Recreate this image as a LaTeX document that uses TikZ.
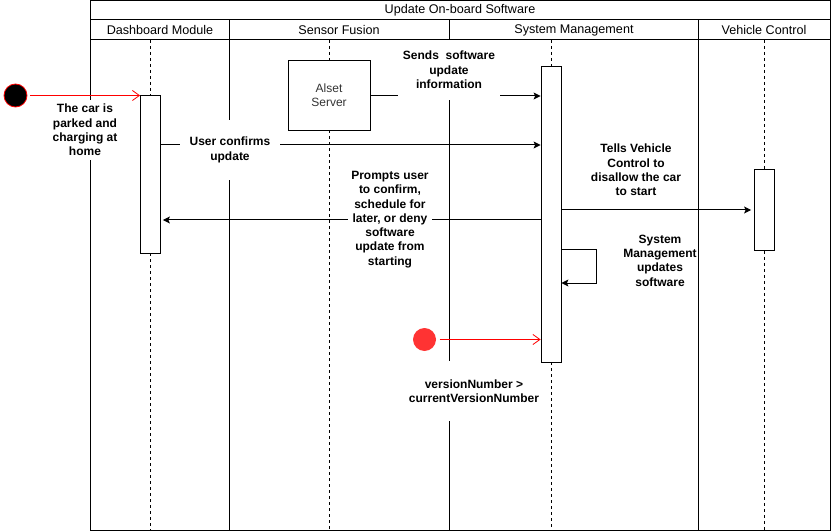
\documentclass[tikz,border=0pt]{standalone}
\usepackage{fontspec}
\setmainfont{Liberation Sans}
\usetikzlibrary{arrows.meta,positioning}
\definecolor{flowred}{RGB}{255,0,0}
\definecolor{trigred}{RGB}{255,51,51}
\definecolor{srvgray}{RGB}{51,51,51}

\begin{document}
\begin{tikzpicture}[x=1pt, y=-1pt, line width=1pt,
  font=\fontsize{12}{14.3}\selectfont,
  head/.style={inner sep=0pt, font=\fontsize{12.6}{14.3}\selectfont},
  lbl/.style={fill=white, align=center, inner sep=2pt,
    font=\fontsize{12}{14.3}\selectfont\bfseries},
  note/.style={align=center, inner sep=0pt,
    font=\fontsize{12}{14.3}\selectfont\bfseries},
  act/.style={draw, fill=white, line width=0.8pt, minimum width=20pt, inner sep=0pt},
  life/.style={dash pattern=on 3pt off 3pt, line width=0.8pt},
  msg/.style={-{Stealth[length=7pt,width=7pt,inset=1.5pt]}, line width=1pt},
  ret/.style={-{Straight Barb[length=7pt,width=10pt]}, flowred, line width=0.8pt}]
\useasboundingbox (0,0) rectangle (831,532);

% ---- frame and lanes ----
\draw (90,0.5) rectangle (830,530);
\draw (90,20) -- (830,20);
\draw (90,40) -- (830,40);
\foreach \lx in {229,449,698}
  \draw (\lx,20) -- (\lx,530);

\node[head] (title) at (460,10) {Update On-board  Software};
\node[head] (hDash) at (160,30) {Dashboard Module};
\node[head] (hSens) at (339,30) {Sensor Fusion};
\node[head] (hSys)  at (574,30) {System Management};
\node[head] (hVeh)  at (764,30) {Vehicle Control};

% ---- lifelines and activations ----
\node[act, minimum height=158pt] (dashAct) at (150.5,174) {};
\node[draw, line width=0.8pt, minimum width=82pt, minimum height=70pt,
  align=center, text=srvgray] (server) at (329,95) {Alset\\Server};
\node[act, minimum height=296pt] (sysAct) at (551,214) {};
\node[act, minimum height=81pt] (vehAct) at (764.5,210) {};

\coordinate (dashTop) at (150.5,40);  \coordinate (dashBot) at (150.5,530);
\coordinate (sensTop) at (329,40);    \coordinate (sensBot) at (329,530);
\coordinate (sysTop)  at (551,40);    \coordinate (sysBot)  at (551,530);
\coordinate (vehTop)  at (764.5,40);  \coordinate (vehBot)  at (764.5,530);

\draw[life] (dashTop) -- (dashAct.north);  \draw[life] (dashAct.south) -- (dashBot);
\draw[life] (sensTop) -- (server.north);   \draw[life] (server.south) -- (sensBot);
\draw[life] (sysTop) -- (sysAct.north);    \draw[life] (sysAct.south) -- (sysBot);
\draw[life] (vehTop) -- (vehAct.north);    \draw[life] (vehAct.south) -- (vehBot);

% ---- messages ----
\node[circle, draw=flowred, fill=black, line width=0.8pt, minimum size=23pt,
  inner sep=0pt] (start) at (15.5,95.5) {};
\draw[ret, shorten <=3pt] (start) -- (dashAct.west |- start);

\coordinate (ySends) at (0,96);
\draw[msg] (server.east |- ySends) -- (sysAct.west |- ySends);

\coordinate (yConfirm) at (0,145);
\draw[msg] (dashAct.east |- yConfirm) -- (sysAct.west |- yConfirm);

\coordinate (yTells) at (0,210);
\draw[msg] (sysAct.east |- yTells) -- ([xshift=-3pt]vehAct.west |- yTells);

\coordinate (yPrompt) at (0,220);
\draw[msg] (sysAct.west |- yPrompt) -- ([xshift=2pt]dashAct.east |- yPrompt);

\coordinate (yLoopA) at (0,250);
\coordinate (loopEnd) at (596,283);
\coordinate (yLoopB) at (0,283);
\draw[msg] (sysAct.east |- yLoopA) -| (loopEnd) -- (sysAct.east |- yLoopB);

\node[circle, fill=trigred, minimum size=23pt, inner sep=0pt] (trig) at (424.5,339.5) {};
\draw[ret, shorten <=3pt] (trig) -- (sysAct.west |- trig);

% ---- labels ----
\node[lbl, minimum height=60pt] (carLbl) at (85,130)
  {The car is\\parked and\\charging at\\home};
\node[lbl, minimum width=100pt, minimum height=60pt] (confirmLbl) at (230,150)
  {User confirms\\update};
\node[lbl, minimum width=102pt, minimum height=60pt] (sendsLbl) at (449,70)
  {Sends~~software\\update\\information};
\node[lbl, minimum width=84pt] (promptLbl) at (390,219.5)
  {Prompts user\\to confirm,\\schedule for\\later, or deny\\software\\update from\\starting};
\node[note] (tellsLbl) at (636,170)
  {Tells Vehicle\\Control to\\disallow the car\\to start};
\node[note] (updLbl) at (660,260.5)
  {System\\Management\\updates\\software};
\node[lbl, inner xsep=0.5pt, minimum height=60pt] (verLbl) at (474,391)
  {versionNumber >\\currentVersionNumber};
\end{tikzpicture}
\end{document}
